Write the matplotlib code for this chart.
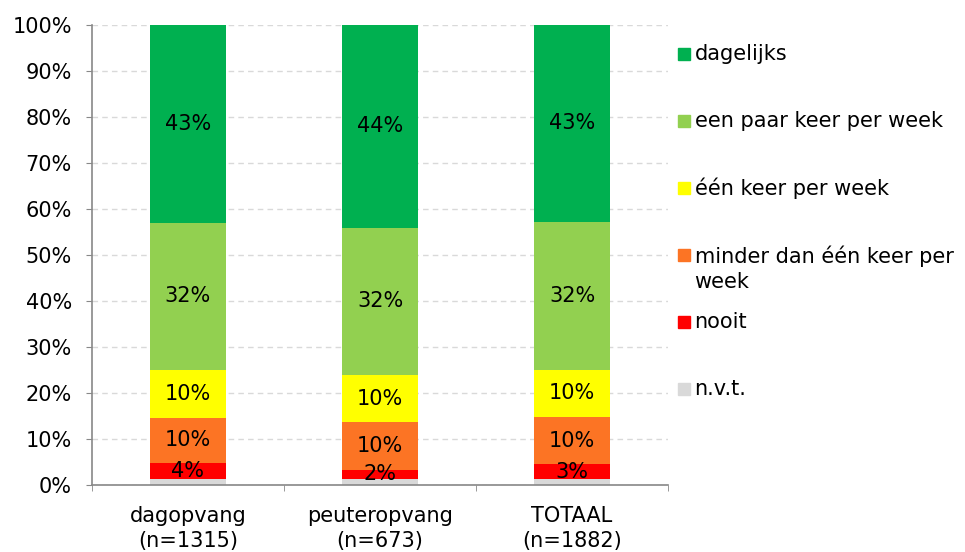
import numpy as np
import matplotlib.pyplot as plt

groups = ['dagopvang\n(n=1315)', 'peuteropvang\n(n=673)', 'TOTAAL\n(n=1882)']
series = ['n.v.t.', 'nooit', 'minder dan één keer per\nweek', 'één keer per week',
          'een paar keer per week', 'dagelijks']
values = {
    'n.v.t.': [1.2, 1.4, 1.3],
    'nooit': [3.6, 1.9, 3.2],
    'minder dan één keer per\nweek': [9.8, 10.4, 10.3],
    'één keer per week': [10.4, 10.2, 10.2],
    'een paar keer per week': [32.0, 32.0, 32.2],
    'dagelijks': [43.0, 44.1, 42.8],
}
colors = ['#D9D9D9', '#FF0000', '#FC7424', '#FFFF00', '#92D050', '#00B050']
show_label = [False, True, True, True, True, True]

FS = 15
plt.rcParams['font.family'] = ['DejaVu Sans']
fig = plt.figure(figsize=(9.65, 5.52), dpi=100)
ax = fig.add_axes([0.0953, 0.1214, 0.597, 0.8333])

x = np.arange(len(groups))
bottom = np.zeros(len(groups))
for name, col, lab in zip(series, colors, show_label):
    v = np.array(values[name])
    ax.bar(x, v, 0.4, bottom=bottom, color=col, label=name, zorder=2)
    if lab:
        for xi, b, vi in zip(x, bottom, v):
            ax.text(xi, b + vi / 2, f'{vi:.0f}%', ha='center', va='center',
                    fontsize=FS, color='black', zorder=3)
    bottom += v

ax.set_xlim(-0.5, 2.5)
ax.set_ylim(0, 100)
ax.set_yticks(np.arange(0, 101, 10))
ax.set_yticklabels([f'{t}%' for t in range(0, 101, 10)], fontsize=FS)
ax.yaxis.grid(True, color='#D9D9D9', linestyle=(0, (4, 3)), linewidth=1, zorder=0)
ax.set_xticks(x)
ax.set_xticklabels(groups, fontsize=FS, linespacing=1.3)
ax.tick_params(axis='x', length=0, pad=15)
ax.set_xticks([-0.5, 0.5, 1.5, 2.5], minor=True)
ax.tick_params(axis='x', which='minor', length=4.5, color='#888888')
ax.tick_params(axis='y', length=4.5, color='#888888', pad=10)
for s in ['top', 'right']:
    ax.spines[s].set_visible(False)
for s in ['left', 'bottom']:
    ax.spines[s].set_color('#888888')
    ax.spines[s].set_linewidth(1.2)

# legend drawn by hand: equal slots, multi-line label hangs below its slot
slot_top, slot_step, line_step = 0.937, 0.1457, 0.0587
for i, (name, col) in enumerate(zip(series[::-1], colors[::-1])):
    y = slot_top - i * slot_step
    nlines = name.count('\n') + 1
    ax.plot([1.0278], [y], marker='s', markersize=9, color=col,
            transform=ax.transAxes, clip_on=False)
    ax.text(1.046, y - (nlines - 1) * line_step / 2, name, transform=ax.transAxes,
            ha='left', va='center', fontsize=FS, linespacing=1.3)

fig.savefig('out.png', dpi=100)
